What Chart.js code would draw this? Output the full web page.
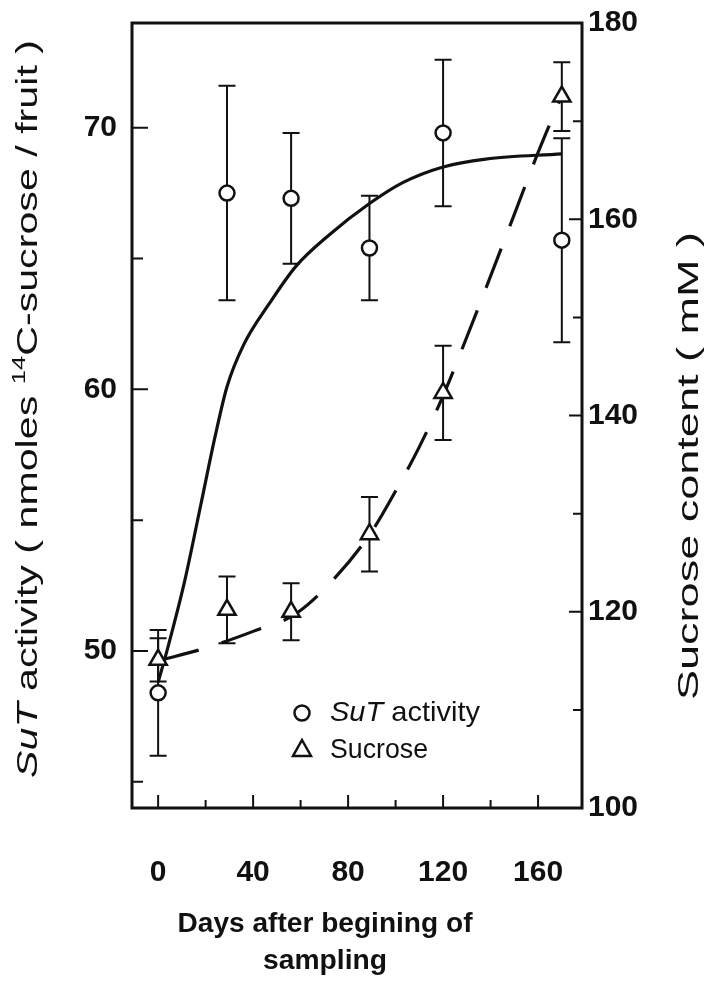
<!DOCTYPE html>
<html>
<head>
<meta charset="utf-8">
<script src="https://cdn.jsdelivr.net/npm/chart.js@4.4.1/dist/chart.umd.min.js"></script>
<style>
  html, body { margin: 0; padding: 0; background: #fff; }
  canvas { display: block; }
</style>
</head>
<body>
<canvas id="sutChart" width="707" height="981"></canvas>
<script>
// sampling points (days) and measured means / errors
const days = [0, 29, 56, 89, 120, 170];
const sutActivity = [48.4, 67.5, 67.3, 65.4, 69.8, 65.7];
const sutError = [2.4, 4.1, 2.5, 2.0, 2.8, 3.9];
const sucrose = [115.1, 120.2, 120.0, 127.9, 142.3, 172.5];
const sucroseError = [2.2, 3.4, 2.9, 3.8, 4.8, 3.5];

// fitted curves
const sutFitDays = [0, 4, 11, 18, 24, 29, 36, 47, 58, 72, 89, 103, 120, 138, 170];
const sutFitValues = [48.8, 50.1, 52.6, 55.6, 58.2, 60.1, 61.7, 63.3, 64.7, 65.9, 67.1, 67.9, 68.5, 68.8, 69.0];
const sucroseFitDays = [0, 20, 40, 58, 75, 90, 100, 110, 120, 130, 140, 150, 160, 170];
const sucroseFitValues = [115.0, 116.3, 118.0, 119.8, 123.6, 128.2, 132.3, 136.8, 142.0, 148.0, 154.2, 160.5, 166.8, 172.6];

// ticks
const xTickLabels = [0, 40, 80, 120, 160];
const xMinorTicks = [20, 60, 100, 140];
const leftTickLabels = [50, 60, 70];
const leftMinorTicks = [45, 55, 65];
const rightTickLabels = [100, 120, 140, 160, 180];
const rightMinorTicks = [110, 130, 150, 170];

const INK = '#111';
const FAMILY = '"Liberation Sans", Arial, sans-serif';

function pts(xs, ys) {
  return xs.map((x, i) => ({ x: x, y: ys[i] }));
}

// text made of several styled pieces, squeezed/stretched to a given length
function drawParts(ctx, parts, cx, cy, angle, length) {
  ctx.save();
  let total = 0;
  const widths = parts.map(p => {
    ctx.font = p[1];
    const w = ctx.measureText(p[0]).width;
    total += w;
    return w;
  });
  const sx = length ? length / total : 1;
  ctx.translate(cx, cy);
  ctx.rotate(angle);
  ctx.scale(sx, 1);
  ctx.textBaseline = 'middle';
  ctx.textAlign = 'left';
  ctx.fillStyle = INK;
  let x = -total / 2;
  parts.forEach((p, i) => {
    ctx.font = p[1];
    ctx.fillText(p[0], x, p[2] || 0);
    x += widths[i];
  });
  ctx.restore();
}

function errorBars(chart, yId, values, errors) {
  const ctx = chart.ctx;
  const xs = chart.scales.x, ys = chart.scales[yId];
  ctx.save();
  ctx.strokeStyle = INK;
  ctx.lineWidth = 2;
  days.forEach((d, i) => {
    const x = xs.getPixelForValue(d);
    const t = ys.getPixelForValue(values[i] + errors[i]);
    const b = ys.getPixelForValue(values[i] - errors[i]);
    ctx.beginPath();
    ctx.moveTo(x, t); ctx.lineTo(x, b);
    ctx.moveTo(x - 8.5, t); ctx.lineTo(x + 8.5, t);
    ctx.moveTo(x - 8.5, b); ctx.lineTo(x + 8.5, b);
    ctx.stroke();
  });
  ctx.restore();
}

function tickMarks(ctx, scale, values, len, side, area) {
  ctx.beginPath();
  values.forEach(v => {
    const p = scale.getPixelForValue(v);
    if (side === 'bottom') { ctx.moveTo(p, area.bottom); ctx.lineTo(p, area.bottom - len); }
    if (side === 'left') { ctx.moveTo(area.left, p); ctx.lineTo(area.left + len, p); }
    if (side === 'right') { ctx.moveTo(area.right, p); ctx.lineTo(area.right - len, p); }
  });
  ctx.stroke();
}

// keep the plot box where the figure has it
function fixSize(size) {
  return s => {
    if (s.isHorizontal()) s.height = size; else s.width = size;
    s.paddingTop = 0; s.paddingBottom = 0;
    s.paddingLeft = 0; s.paddingRight = 0;
  };
}

const decorations = {
  id: 'decorations',
  beforeDatasetsDraw(chart) {
    errorBars(chart, 'y', sutActivity, sutError);
    errorBars(chart, 'y2', sucrose, sucroseError);
  },
  afterDraw(chart) {
    const ctx = chart.ctx, a = chart.chartArea;
    ctx.save();
    ctx.strokeStyle = INK;
    ctx.lineWidth = 2;
    tickMarks(ctx, chart.scales.x, xTickLabels, 13, 'bottom', a);
    tickMarks(ctx, chart.scales.x, xMinorTicks, 8, 'bottom', a);
    tickMarks(ctx, chart.scales.y, leftTickLabels, 16, 'left', a);
    tickMarks(ctx, chart.scales.y, leftMinorTicks, 11, 'left', a);
    tickMarks(ctx, chart.scales.y2, rightTickLabels, 13, 'right', a);
    tickMarks(ctx, chart.scales.y2, rightMinorTicks, 9, 'right', a);
    ctx.lineWidth = 3;
    ctx.strokeRect(a.left, a.top, a.right - a.left, a.bottom - a.top);

    // legend
    ctx.lineWidth = 2.5;
    ctx.fillStyle = '#fff';
    ctx.beginPath();
    ctx.arc(302, 713, 7.5, 0, Math.PI * 2);
    ctx.fill(); ctx.stroke();
    ctx.beginPath();
    ctx.moveTo(302, 740); ctx.lineTo(311, 756); ctx.lineTo(293, 756); ctx.closePath();
    ctx.fill(); ctx.stroke();
    ctx.restore();

    drawParts(ctx, [['SuT', 'italic 28px ' + FAMILY], [' activity', '28px ' + FAMILY]], 330 + 75, 713, 0, 150);
    drawParts(ctx, [['Sucrose', '28px ' + FAMILY]], 330 + 49, 750, 0, 98);

    // axis titles
    drawParts(ctx, [
      ['SuT', 'italic 29px ' + FAMILY],
      [' activity ( nmoles ', '29px ' + FAMILY],
      ['14', '18px ' + FAMILY, -9],
      ['C-sucrose / fruit )', '29px ' + FAMILY]
    ], 29, 409, -Math.PI / 2, 738);
    drawParts(ctx, [['Sucrose content ( mM )', '29px ' + FAMILY]], 690, 466, -Math.PI / 2, 468);
    drawParts(ctx, [['Days after begining of', 'bold 27px ' + FAMILY]], 325, 925, 0, 295);
    drawParts(ctx, [['sampling', 'bold 27px ' + FAMILY]], 325, 962, 0, 124);
  }
};

const tickFont = { family: FAMILY, size: 30, weight: 'bold' };

new Chart(document.getElementById('sutChart'), {
  type: 'scatter',
  data: {
    datasets: [
      {
        label: 'SuT activity',
        data: pts(days, sutActivity),
        yAxisID: 'y',
        pointStyle: 'circle',
        pointRadius: 7.5,
        pointBorderWidth: 2.5,
        pointBackgroundColor: '#fff',
        pointBorderColor: INK
      },
      {
        label: 'Sucrose',
        data: pts(days, sucrose),
        yAxisID: 'y2',
        pointStyle: 'triangle',
        pointRadius: 10,
        pointBorderWidth: 2.5,
        pointBackgroundColor: '#fff',
        pointBorderColor: INK
      },
      {
        label: 'SuT fit',
        data: pts(sutFitDays, sutFitValues),
        yAxisID: 'y',
        showLine: true,
        pointRadius: 0,
        borderColor: INK,
        borderWidth: 3.2,
        cubicInterpolationMode: 'monotone'
      },
      {
        label: 'Sucrose fit',
        data: pts(sucroseFitDays, sucroseFitValues),
        yAxisID: 'y2',
        showLine: true,
        pointRadius: 0,
        borderColor: INK,
        borderWidth: 3.2,
        borderDash: [42, 24],
        cubicInterpolationMode: 'monotone'
      }
    ]
  },
  options: {
    responsive: false,
    animation: false,
    devicePixelRatio: 1,
    layout: { padding: { top: 23, left: 0, right: 0, bottom: 0 } },
    plugins: { legend: { display: false }, tooltip: { enabled: false } },
    scales: {
      x: {
        type: 'linear',
        min: -11,
        max: 178.5,
        grid: { display: false, drawTicks: false },
        border: { display: false },
        ticks: { font: tickFont, color: INK, padding: 47, maxRotation: 0 },
        afterBuildTicks: s => { s.ticks = xTickLabels.map(v => ({ value: v })); },
        afterFit: fixSize(173)
      },
      y: {
        position: 'left',
        min: 44,
        max: 74,
        grid: { display: false, drawTicks: false },
        border: { display: false },
        ticks: { font: tickFont, color: INK, padding: 15 },
        afterBuildTicks: s => { s.ticks = leftTickLabels.map(v => ({ value: v })); },
        afterFit: fixSize(132)
      },
      y2: {
        position: 'right',
        min: 100,
        max: 180,
        grid: { display: false, drawTicks: false },
        border: { display: false },
        ticks: { font: tickFont, color: INK, padding: 6 },
        afterBuildTicks: s => { s.ticks = rightTickLabels.map(v => ({ value: v })); },
        afterFit: fixSize(125)
      }
    }
  },
  plugins: [decorations]
});
</script>
</body>
</html>
